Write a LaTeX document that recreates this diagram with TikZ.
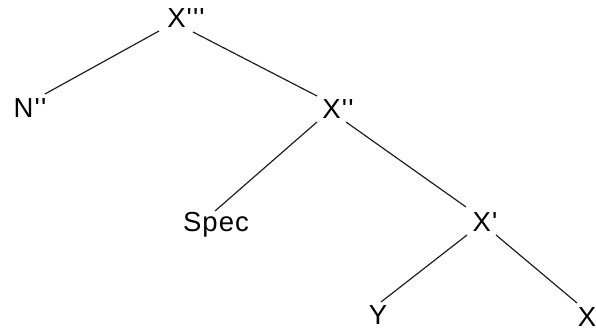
\documentclass[tikz,border=0pt]{standalone}
\usepackage{fontspec}
\setmainfont{Liberation Sans}[Ligatures=TeXOff,LetterSpace=4]
\usetikzlibrary{calc}
\begin{document}
\begin{tikzpicture}[x=1pt,y=1pt,
  lab/.style={inner sep=0pt,anchor=base,font=\fontsize{27.5}{30}\selectfont},
  edge/.style={line width=1.2pt,draw=black!88}]
\useasboundingbox (0,0) rectangle (596,329);
\node[lab] (x3) at (186,301.5) {X'''};
\node[lab] (n2) at (30,211) {N''};
\node[lab] (x2) at (338,210.5) {X''};
\node[lab] (spec) at (216,97.5) {Spec};
\node[lab] (x1) at (485,97) {X'};
\node[lab] (yy) at (378,4.5) {Y};
\node[lab] (xx) at (587,3) {X};
\draw[edge] ($(x3.base)+(-27,-3.5)$) -- ($(n2.base)+(15,24)$);
\draw[edge] ($(x3.base)+(7,-4.5)$) -- ($(x2.base)+(-21,22.5)$);
\draw[edge] ($(x2.base)+(-21,-3.5)$) -- ($(spec.base)+(-1,20.5)$);
\draw[edge] ($(x2.base)+(8,-3.5)$) -- ($(x1.base)+(-19,25)$);
\draw[edge] ($(x1.base)+(-18,-3)$) -- ($(yy.base)+(3,22.5)$);
\draw[edge] ($(x1.base)+(11,-3)$) -- ($(xx.base)+(-10,23)$);
\end{tikzpicture}
\end{document}
